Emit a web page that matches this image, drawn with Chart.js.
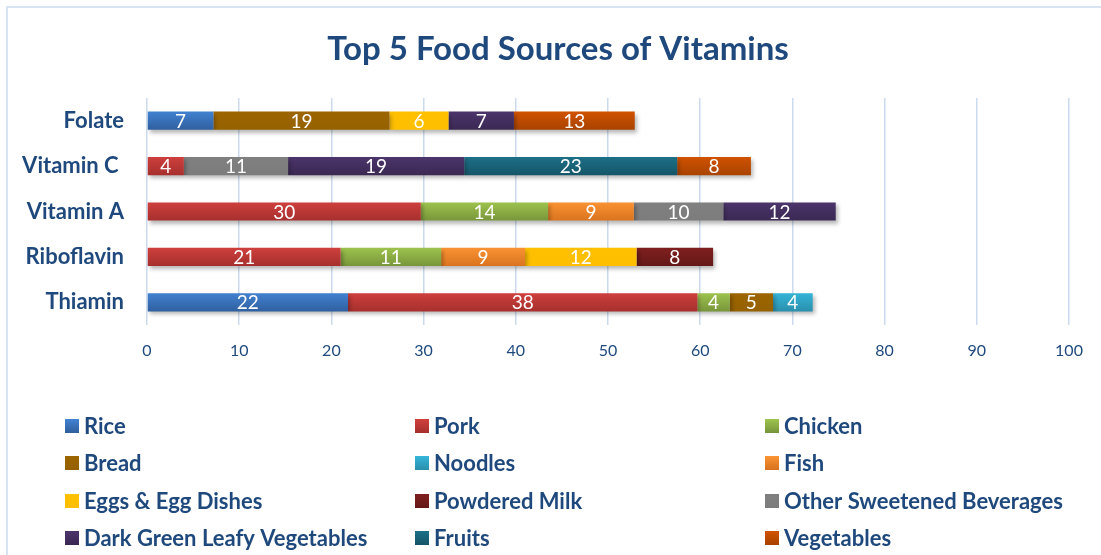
<!DOCTYPE html>
<html><head><meta charset="utf-8">
<script src="https://cdn.jsdelivr.net/npm/chart.js@4"></script>
<style>html,body{margin:0;padding:0;background:#fff}#wrap{position:relative;width:1101px;height:555px}</style>
</head><body><div id="wrap"><canvas id="c"></canvas></div>
<script>
const chartTitle = 'Top 5 Food Sources of Vitamins';
const categories = ['Folate', 'Vitamin C ', 'Vitamin A', 'Riboflavin', 'Thiamin'];
const foods = ['Rice', 'Pork', 'Chicken', 'Bread', 'Noodles', 'Fish', 'Eggs & Egg Dishes', 'Powdered Milk', 'Other Sweetened Beverages', 'Dark Green Leafy Vegetables', 'Fruits', 'Vegetables'];
// values in category order: Folate, Vitamin C, Vitamin A, Riboflavin, Thiamin
const rice         = [7.2, null, null, null, 21.8];
const pork         = [null, 4.0, 29.7, 21.0, 37.9];
const chicken      = [null, null, 13.8, 10.9, 3.5];
const bread        = [19.1, null, null, null, 4.7];
const noodles      = [null, null, null, null, 4.3];
const fish         = [null, null, 9.3, 9.1, null];
const eggs         = [6.4, null, null, 12.1, null];
const powderedMilk = [null, null, null, 8.3, null];
const sweetenedBev = [null, 11.3, 9.7, null, null];
const leafyVeg     = [7.1, 19.1, 12.2, null, null];
const fruits       = [null, 23.1, null, null, null];
const vegetables   = [13.1, 8.0, null, null, null];
const seriesValues = [rice, pork, chicken, bread, noodles, fish, eggs, powderedMilk, sweetenedBev, leafyVeg, fruits, vegetables];

const colorTop    = ['#4283d3', '#d0403d', '#9fc54e', '#9c6500', '#35b6db', '#fb9433', '#ffc000', '#801f1f', '#808080', '#4c356c', '#1d7189', '#d25300'];
const colorBottom = ['#2f5e9c', '#a42f2d', '#76933a', '#956100', '#2a8eaa', '#d8721e', '#ffbf00', '#641818', '#7c7c7c', '#3a2852', '#155466', '#a64200'];
const TEXT = '#1F497D';
const FONT = 'Lato';

function grad(i) {
  return function (ctx) {
    const chart = ctx.chart;
    const y = chart.scales && chart.scales.y;
    if (!y || ctx.type !== 'data' || !chart.chartArea) return colorTop[i];
    const cy = y.getPixelForValue(ctx.dataIndex);
    const h = 10;
    const g = chart.ctx.createLinearGradient(0, cy - h, 0, cy + h);
    g.addColorStop(0, colorTop[i]);
    g.addColorStop(1, colorBottom[i]);
    return g;
  };
}

const datasets = foods.map((f, i) => ({
  label: f,
  data: seriesValues[i],
  backgroundColor: grad(i),
  borderWidth: 0,
  barPercentage: 0.4,
  categoryPercentage: 1.0
}));

const decor = {
  id: 'decor',
  beforeDraw(chart) {
    const c = chart.ctx;
    c.save();
    c.fillStyle = '#d9e4f3';
    c.fillRect(6, 6, 1101, 2);
    c.fillRect(6, 6, 2, 555);
    c.font = 'bold 33px ' + FONT;
    c.fillStyle = TEXT;
    c.textAlign = 'center';
    c.textBaseline = 'alphabetic';
    c.fillText(chartTitle, 558, 60);
    c.restore();
  },
  beforeDatasetsDraw(chart) {
    const c = chart.ctx;
    c.save();
    c.shadowColor = 'rgba(0,0,0,0.28)';
    c.shadowBlur = 4;
    c.shadowOffsetX = 2;
    c.shadowOffsetY = 3;
  },
  afterDatasetsDraw(chart) {
    const c = chart.ctx;
    c.restore();
    c.save();
    c.font = '19px ' + FONT;
    c.fillStyle = '#ffffff';
    c.textAlign = 'center';
    c.textBaseline = 'middle';
    chart.data.datasets.forEach((ds, di) => {
      const meta = chart.getDatasetMeta(di);
      meta.data.forEach((el, idx) => {
        const v = ds.data[idx];
        if (v == null) return;
        c.fillText(String(Math.round(v)), (el.x + el.base) / 2, el.y + 1);
      });
    });
    c.restore();
  },
  afterDraw(chart) {
    const c = chart.ctx;
    const colX = [65, 415, 765];
    const rowY = [426, 463, 501, 538];
    c.save();
    c.font = 'bold 22px ' + FONT;
    c.textBaseline = 'middle';
    c.textAlign = 'left';
    foods.forEach((f, i) => {
      const x = colX[i % 3], y = rowY[Math.floor(i / 3)];
      const g = c.createLinearGradient(0, y - 7, 0, y + 7);
      g.addColorStop(0, colorTop[i]);
      g.addColorStop(1, colorBottom[i]);
      c.fillStyle = g;
      c.fillRect(x, y - 7, 14, 14);
      c.fillStyle = TEXT;
      c.fillText(f, x + 19, y + 1);
    });
    c.restore();
  }
};

new Chart(document.getElementById('c'), {
  type: 'bar',
  data: { labels: categories, datasets },
  plugins: [decor],
  options: {
    indexAxis: 'y',
    responsive: true,
    maintainAspectRatio: false,
    animation: false,
    layout: { padding: { left: 0, right: 32, top: 98, bottom: 0 } },
    plugins: {
      legend: { display: false },
      tooltip: { enabled: false },
      title: { display: false }
    },
    scales: {
      x: {
        stacked: true,
        min: 0, max: 100,
        ticks: { stepSize: 10, color: TEXT, font: { family: FONT, size: 16 }, padding: 16 },
        grid: { color: '#cbdaed', lineWidth: 1.5, drawTicks: false },
        border: { display: false },
        afterFit(s) { s.height = 230; }
      },
      y: {
        stacked: true,
        ticks: { color: TEXT, font: { family: FONT, size: 22, weight: 'bold' }, padding: 23 },
        grid: { display: false, drawTicks: false },
        border: { display: false },
        afterFit(s) { s.width = 147; }
      }
    }
  }
});
</script>
</body></html>
